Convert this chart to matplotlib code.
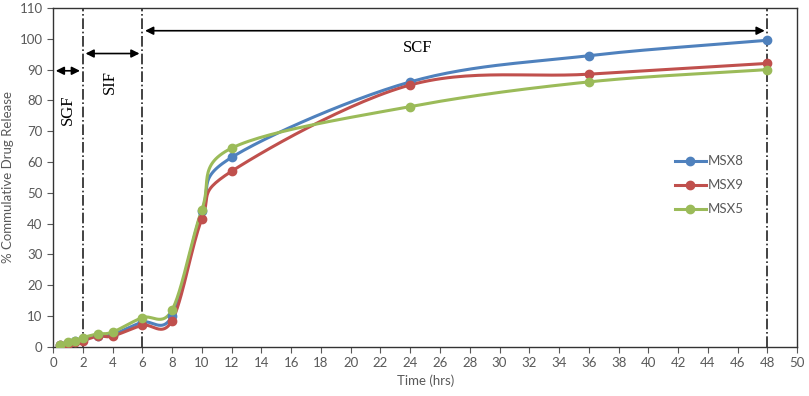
import numpy as np
import matplotlib.pyplot as plt

time = [0.5, 1, 1.5, 2, 3, 4, 6, 8, 10, 12, 24, 36, 48]
msx8 = [0.5, 1.2, 1.8, 2.5, 3.6, 4.0, 8.0, 10.0, 44.0, 61.5, 86.0, 94.5, 99.5]
msx9 = [0.5, 1.0, 1.5, 2.0, 3.5, 3.5, 7.0, 8.5, 41.5, 57.0, 85.0, 88.5, 92.0]
msx5 = [0.5, 1.5, 2.0, 3.0, 4.2, 4.8, 9.5, 12.0, 44.5, 64.5, 78.0, 86.0, 90.0]
series = [("MSX8", msx8, "#4F81BD"), ("MSX9", msx9, "#C0504D"), ("MSX5", msx5, "#9BBB59")]
phase_lines = [2, 6, 48]
xticks = list(range(0, 51, 2))
yticks = list(range(0, 111, 10))


def smooth(x, y, n=30):
    # Catmull-Rom style smoothing like Excel's "smoothed line"
    x = np.asarray(x, float)
    y = np.asarray(y, float)
    px = np.concatenate([[2 * x[0] - x[1]], x, [2 * x[-1] - x[-2]]])
    py = np.concatenate([[2 * y[0] - y[1]], y, [2 * y[-1] - y[-2]]])
    xs, ys = [], []
    t = np.linspace(0, 1, n)
    for i in range(1, len(px) - 2):
        p0, p1, p2, p3 = [np.array([px[j], py[j]]) for j in range(i - 1, i + 3)]
        c1 = p1 + (p2 - p0) / 6
        c2 = p2 - (p3 - p1) / 6
        b = ((1 - t) ** 3)[:, None] * p1 + (3 * (1 - t) ** 2 * t)[:, None] * c1 \
            + (3 * (1 - t) * t ** 2)[:, None] * c2 + (t ** 3)[:, None] * p2
        xs.extend(b[:, 0])
        ys.extend(b[:, 1])
    return xs, ys


plt.rcParams['font.family'] = ['Lato', 'DejaVu Sans']
fig = plt.figure(figsize=(8.09, 3.96), dpi=100)
ax = fig.add_axes([0.0655, 0.124, 0.92, 0.856])

for name, vals, col in series:
    sx, sy = smooth(time, vals)
    ax.plot(sx, sy, color=col, lw=2.2, zorder=3)
    ax.plot(time, vals, "o", color=col, ms=6, zorder=4)
    ax.plot([], [], "-o", color=col, lw=2.2, ms=6, label=name)

for xv in phase_lines:
    ax.axvline(xv, color="#222222", ls="-.", lw=1.2, zorder=2)

arrow = dict(arrowstyle="<|-|>", color="black", lw=1.2, mutation_scale=12)
ax.annotate("", xy=(0, 89.6), xytext=(2, 89.6), arrowprops=arrow)
ax.annotate("", xy=(2, 95.2), xytext=(6, 95.2), arrowprops=arrow)
ax.annotate("", xy=(6, 102.6), xytext=(48, 102.6), arrowprops=arrow)

serif = dict(family="Liberation Serif", fontsize=12)
ax.text(24.5, 97, "SCF", ha="center", va="center", **serif)
ax.text(3.8, 86, "SIF", ha="center", va="center", rotation=90, **serif)
ax.text(1.0, 77, "SGF", ha="center", va="center", rotation=90, **serif)

ax.set_xlim(0, 50)
ax.set_ylim(0, 110)
ax.set_xticks(xticks)
ax.set_yticks(yticks)
ax.tick_params(colors="#595959", labelsize=9.5, direction="out", length=4)
for s in ax.spines.values():
    s.set_color("#333333")
    s.set_linewidth(1)
ax.set_xlabel("Time (hrs)", fontsize=9.5, color="#595959")
ax.set_ylabel("% Commulative Drug Release", fontsize=9.5, color="#595959")

ax.legend(loc="upper left", bbox_to_anchor=(0.82, 0.6), frameon=False, fontsize=9.5,
          labelcolor="#595959", handlelength=2.3, handletextpad=0.2, labelspacing=0.9)

fig.savefig("out.png", dpi=100)
